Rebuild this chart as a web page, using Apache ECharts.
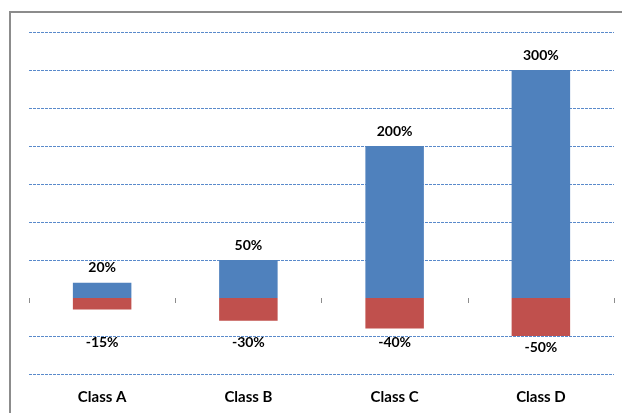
<!DOCTYPE html>
<html>
<head>
<meta charset="utf-8">
<script src="https://cdn.jsdelivr.net/npm/echarts@6/dist/echarts.min.js"></script>
<style>
html,body{margin:0;padding:0;background:#fff;}
#chart{width:622px;height:413px;}
</style>
</head>
<body>
<div id="chart"></div>
<script>
var categories = ['Class A', 'Class B', 'Class C', 'Class D'];
var gains = [20, 50, 200, 300];
var losses = [-15, -30, -40, -50];

var blue = '#4F81BD';
var red = '#C0504D';
var gridColor = '#5A8ACB';

function font(size) {
  return { fontFamily: 'Lato', fontWeight: 700, fontSize: size, color: '#000' };
}

var chart = echarts.init(document.getElementById('chart'), null, { renderer: 'canvas' });

// split line colors: ticks from -100 to 350 step 50; hide the line at zero
var splitColors = [];
for (var t = -100; t <= 350; t += 50) splitColors.push(t === 0 ? 'rgba(0,0,0,0)' : gridColor);

chart.setOption({
  animation: false,
  backgroundColor: '#fff',
  graphic: [{
    type: 'rect',
    shape: { x: 10, y: 12, width: 800, height: 600 },
    style: { fill: 'none', stroke: '#8c8c8c', lineWidth: 2 },
    silent: true
  }],
  grid: { left: 29, right: 8, top: 32, bottom: 39 },
  xAxis: [{
    type: 'category',
    data: categories,
    position: 'bottom',
    axisLine: { show: false, onZero: false },
    axisTick: { show: false },
    axisLabel: Object.assign({ margin: 16 }, font(15)),
    splitLine: { show: false }
  }, {
    type: 'category',
    data: categories,
    position: 'bottom',
    axisLine: { show: false, onZero: true },
    axisTick: { show: true, length: 5, lineStyle: { color: '#8c8c8c', width: 1 } },
    axisLabel: { show: false },
    splitLine: { show: false }
  }],
  yAxis: {
    type: 'value',
    min: -100,
    max: 350,
    interval: 50,
    axisLine: { show: false },
    axisTick: { show: false },
    axisLabel: { show: false },
    splitLine: { show: true, lineStyle: { color: splitColors, type: [3, 1], width: 1 } }
  },
  series: [{
    type: 'bar',
    data: gains,
    barWidth: '40%',
    barGap: '-100%',
    itemStyle: { color: blue },
    label: Object.assign({
      show: true, position: 'top', distance: 8,
      formatter: function (p) { return p.value + '%'; }
    }, font(14))
  }, {
    type: 'bar',
    data: losses,
    barWidth: '40%',
    barGap: '-100%',
    itemStyle: { color: red },
    label: { show: false }
  }, {
    type: 'scatter',
    data: losses.map(function (v) { return Math.min(v, -43); }),
    symbolSize: 1,
    silent: true,
    itemStyle: { color: 'rgba(0,0,0,0)', opacity: 1 },
    label: Object.assign({
      show: true, position: 'bottom', distance: 4, opacity: 1,
      formatter: function (p) { return losses[p.dataIndex] + '%'; }
    }, font(14))
  }]
});
</script>
</body>
</html>
